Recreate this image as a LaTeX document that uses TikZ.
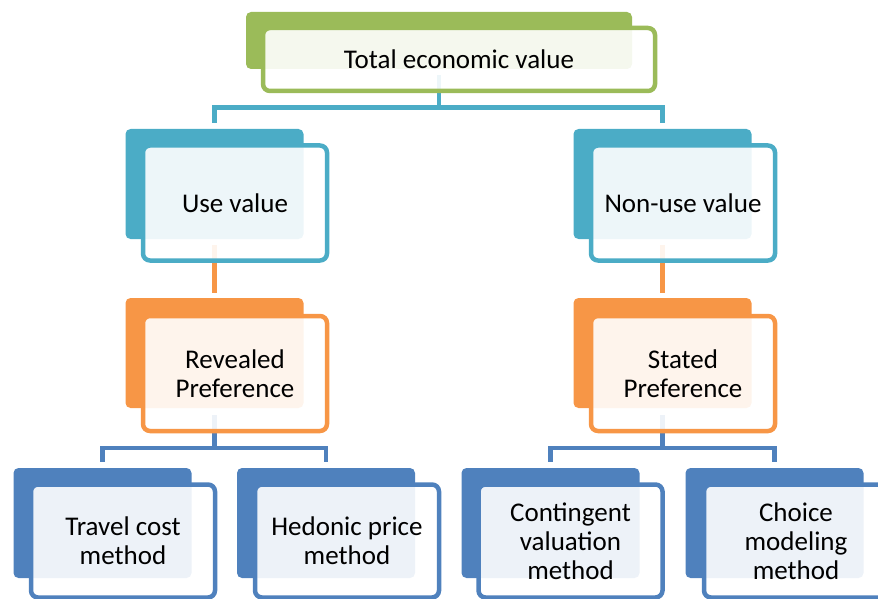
\documentclass[tikz,border=0pt]{standalone}
\usepackage{fontspec}
\setmainfont{Carlito}
\definecolor{cgreen}{HTML}{9BBB59}
\definecolor{cteal}{HTML}{4BACC6}
\definecolor{corange}{HTML}{F79646}
\definecolor{cblue}{HTML}{4F81BD}
\pgfdeclarelayer{bg}
\pgfsetlayers{bg,main}
\begin{document}
\begin{tikzpicture}[x=1pt,y=-1pt,
  backbox/.style={rectangle, rounded corners=5pt, fill=#1, minimum width=178pt, minimum height=110pt, inner sep=0pt},
  frontbox/.style={rectangle, rounded corners=7pt, draw=#1, line width=4.5pt, fill=white, fill opacity=0.9, text opacity=1, minimum width=184pt, minimum height=115pt, inner sep=0pt, align=center, font=\fontsize{27}{29}\selectfont},
  conn/.style={draw=#1, line width=4.5pt}]
\useasboundingbox (0,0) rectangle (878,599);
\clip (0,0) rectangle (878,599);
% top
\node[backbox=cgreen, minimum width=386pt, minimum height=57pt] (tevB) at (439,40.5) {};
\node[frontbox=cgreen, minimum width=392pt, minimum height=63pt] (tev) at (459,59.5) {Total economic value};
% second row
\node[backbox=cteal] (useB) at (214.5,184) {};
\node[frontbox=cteal] (use) at (235,203) {Use value};
\node[backbox=cteal] (nonB) at (662.5,184) {};
\node[frontbox=cteal] (non) at (683,203) {Non-use value};
% third row
\node[backbox=corange] (revB) at (214.5,353) {};
\node[frontbox=corange] (rev) at (235,373.5) {Revealed\\Preference};
\node[backbox=corange] (staB) at (662.5,353) {};
\node[frontbox=corange] (sta) at (683,373.5) {Stated\\Preference};
% bottom row
\node[backbox=cblue] (traB) at (102.5,523) {};
\node[frontbox=cblue, minimum height=113pt] (tra) at (123,541) {Travel cost\\method};
\node[backbox=cblue] (hedB) at (326,523) {};
\node[frontbox=cblue, minimum height=113pt] (hed) at (347,541) {Hedonic price\\method};
\node[backbox=cblue] (conB) at (550.5,523) {};
\node[frontbox=cblue, minimum height=113pt] (con) at (570.5,541) {Contingent\\valuation\\method};
\node[backbox=cblue] (choB) at (774.5,523) {};
\node[frontbox=cblue, minimum height=113pt] (cho) at (796,541) {Choice\\modeling\\method};
% connectors
\begin{pgfonlayer}{bg}
\coordinate (j1) at (439,107.5);
\coordinate (j2) at (214.5,448);
\coordinate (j3) at (662.5,448);
\draw[conn=cteal] ([yshift=-6pt]tevB.south) -- (j1) -| ([yshift=6pt]useB.north);
\draw[conn=cteal] (j1) -| ([yshift=6pt]nonB.north);
\draw[conn=corange] ([yshift=-6pt]useB.south) -- ([yshift=5pt]revB.north);
\draw[conn=corange] ([yshift=-6pt]nonB.south) -- ([yshift=5pt]staB.north);
\draw[conn=cblue] ([yshift=-7pt]revB.south) -- (j2) -| ([yshift=6pt]traB.north);
\draw[conn=cblue] (j2) -| ([yshift=6pt]hedB.north);
\draw[conn=cblue] ([yshift=-7pt]staB.south) -- (j3) -| ([yshift=6pt]conB.north);
\draw[conn=cblue] (j3) -| ([yshift=6pt]choB.north);
\end{pgfonlayer}
\end{tikzpicture}
\end{document}
